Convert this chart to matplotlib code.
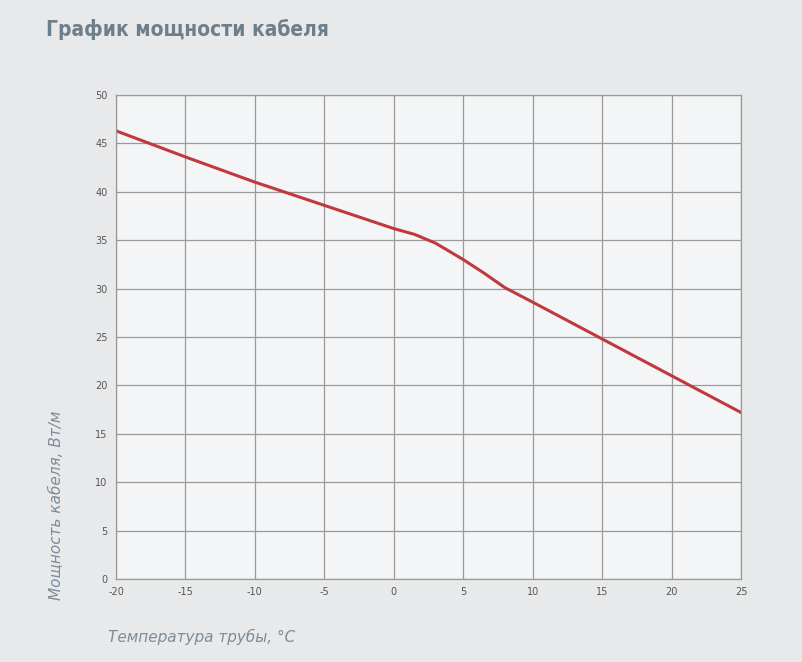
import matplotlib
matplotlib.use('Agg')
import matplotlib.pyplot as plt

plt.rcParams['axes.unicode_minus'] = False

temps = [-20, -15, -10, -5, 0, 1.5, 3, 5, 6.5, 8, 10, 15, 20, 25]
power = [46.3, 43.6, 41.0, 38.6, 36.2, 35.6, 34.7, 33.0, 31.6, 30.1, 28.6, 24.8, 21.0, 17.2]
xticks = list(range(-20, 26, 5))
yticks = list(range(0, 51, 5))

fig = plt.figure(figsize=(8.02, 6.62), dpi=100)
fig.patch.set_facecolor('#e8e9eb')
ax = fig.add_axes([116 / 802, 1 - 579 / 662, (741 - 116) / 802, (579 - 95) / 662])
ax.set_facecolor('#f4f5f6')

ax.plot(temps, power, color='#c0393f', linewidth=2.2, solid_capstyle='round')

ax.set_xlim(-20, 25)
ax.set_ylim(0, 50)
ax.set_xticks(xticks)
ax.set_yticks(yticks)
ax.tick_params(labelsize=7, colors='#555555', length=0, pad=6)
ax.grid(True, color='#9a9a9a', linewidth=0.9)
for s in ax.spines.values():
    s.set_color('#9a9a9a')
    s.set_linewidth(0.9)

fig.text(46 / 802, 1 - 30 / 662, 'График мощности кабеля', fontsize=15, fontweight='bold',
         color='#6e7f8c', family='DejaVu Sans', stretch='condensed', va='center')
fig.text(56 / 802, 1 - 505 / 662, 'Мощность кабеля, Вт/м', rotation=90, fontsize=11,
         style='italic', color='#7d8c99', va='center', ha='center')
fig.text(108 / 802, 1 - 637 / 662, 'Температура трубы, °C', fontsize=11,
         style='italic', color='#7d8c99', va='center')

fig.savefig('out.png', dpi=100, facecolor=fig.get_facecolor())
